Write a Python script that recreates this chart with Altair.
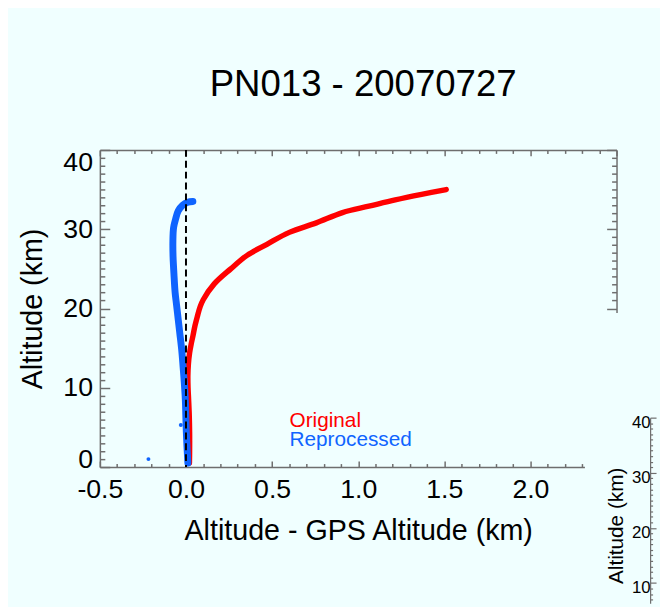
import altair as alt
import numpy as np
import pandas as pd

# ---------------- data ----------------
title_text = "PN013 - 20070727"
x_title = "Altitude - GPS Altitude (km)"
y_title = "Altitude (km)"
series_names = ["Original", "Reprocessed"]
series_colors = ["#FF0000", "#0F64FF"]

# Original (red): altitude (km) and altitude - GPS altitude (km)
orig_alt = [0.5, 2.0, 4.4, 6.5, 8.6, 10.0, 11.5, 13.0, 14.4, 15.5, 16.5, 17.8, 19.0,
            20.2, 21.1, 23.1, 25.0, 26.7, 28.1, 29.6, 30.8, 32.1, 32.9, 33.7, 34.4, 35.0]
orig_diff = [0.020, 0.021, 0.021, 0.019, 0.015, 0.012, 0.011, 0.014, 0.021, 0.030, 0.040,
             0.052, 0.066, 0.082, 0.100, 0.164, 0.260, 0.355, 0.470, 0.600, 0.757, 0.909,
             1.062, 1.215, 1.368, 1.511]

# Reprocessed (blue)
rep_alt = [0.5, 2.5, 4.4, 6.5, 8.6, 10.7, 12.7, 14.8, 16.9, 18.6, 20.5, 22.0, 24.4,
           26.5, 28.5, 30.2, 31.3, 32.3, 33.0, 33.4, 33.5]
rep_diff = [0.011, 0.006, 0.002, -0.001, -0.004, -0.010, -0.017, -0.025, -0.036, -0.045,
            -0.055, -0.063, -0.070, -0.075, -0.076, -0.072, -0.060, -0.045, -0.020, 0.010, 0.040]

# stray reprocessed points
stray_alt = [1.0, 5.3]
stray_diff = [-0.218, -0.030]

zero_line = [0.0]

x_domain = [-0.5, 2.5]
y_domain = [0, 40]
x_ticks = [round(v, 1) for v in np.arange(-0.5, 2.5001, 0.1)]
y_ticks = list(range(0, 41))
inset_domain = [6.3, 40]
inset_ticks = list(range(7, 41))
inset_points = [10, 20, 30, 40]

# ---------------- styling ----------------
BG = "#F0FFFF"
AX = "#6E6E6E"
FONT = "Liberation Sans"
X_MAJ = "abs(datum.value*2 - round(datum.value*2)) < 0.001"
Y_MAJ = "datum.value % 10 === 0"

xscale = alt.Scale(domain=x_domain, nice=False, zero=False)
yscale = alt.Scale(domain=y_domain, nice=False, zero=False)

common = dict(grid=False, domainColor=AX, domainWidth=1.5, tickColor=AX, tickWidth=1.5,
              labelOverlap=False)

x_bottom = alt.Axis(
    orient="bottom", values=x_ticks,
    tickSize={"condition": {"test": X_MAJ, "value": -6}, "value": -3.5},
    labelExpr=f"{X_MAJ} ? replace(format(datum.value, '.1f'), '\u2212', '-') : ''",
    labelFlush=False, labelFontSize=27, labelPadding=16,
    title=x_title, titleFontSize=29, titleY=73, titleBaseline="alphabetic",
    **common)
x_top = alt.Axis(
    orient="top", values=x_ticks,
    tickSize={"condition": {"test": X_MAJ, "value": -6}, "value": -3.5},
    labels=False, title=None, **common)
y_left = alt.Axis(
    orient="left", values=y_ticks,
    tickSize={"condition": {"test": Y_MAJ, "value": -10}, "value": -5},
    labelExpr=f"{Y_MAJ} ? datum.label : ''",
    labelFlush=False,
    labelBaseline={"condition": [{"test": "datum.value === 0", "value": "alphabetic"},
                                 {"test": "datum.value === 40", "value": "top"}],
                   "value": "middle"},
    labelFontSize=27, labelPadding=17.5,
    title=y_title, titleFontSize=29, titleX=-59, titleY=160.5, titleAngle=270,
    titleBaseline="alphabetic", **common)
y_right = alt.Axis(
    orient="right", values=y_ticks,
    tickSize={"condition": {"test": Y_MAJ, "value": -10}, "value": -5},
    labels=False, title=None, **common)

inset_axis = alt.Axis(
    orient="left", offset=-557, zindex=1, values=inset_ticks,
    tickSize={"condition": {"test": Y_MAJ, "value": -6}, "value": -2.5},
    labelExpr=f"{Y_MAJ} ? datum.label : ''",
    labelFlush=False, labelFontSize=17, labelPadding=6, labelOffset=5,
    title=y_title, titleFontSize=21, titleX=-28, titleY=380, titleAngle=270,
    titleBaseline="alphabetic", grid=False, domainColor=AX, domainWidth=1.2,
    tickColor=AX, tickWidth=1.2, labelOverlap=False)

df_orig = pd.DataFrame({"diff": orig_diff, "alt": orig_alt, "i": range(len(orig_alt))})
df_rep = pd.DataFrame({"diff": rep_diff, "alt": rep_alt, "i": range(len(rep_alt))})
df_stray = pd.DataFrame({"diff": stray_diff, "alt": stray_alt})
df_zero = pd.DataFrame({"z": zero_line})

red = alt.Chart(df_orig).mark_line(
    color=series_colors[0], strokeWidth=5.5, strokeCap="round", strokeJoin="round",
    interpolate="catmull-rom"
).encode(
    x=alt.X("diff:Q", scale=xscale, axis=x_bottom),
    y=alt.Y("alt:Q", scale=yscale, axis=y_left),
    order="i:Q",
)
blue = alt.Chart(df_rep).mark_line(
    color=series_colors[1], strokeWidth=7, strokeCap="round", strokeJoin="round",
    interpolate="catmull-rom"
).encode(
    x=alt.X("diff:Q", scale=xscale, axis=x_top),
    y=alt.Y("alt:Q", scale=yscale, axis=y_right),
    order="i:Q",
)
stray = alt.Chart(df_stray).mark_circle(size=16, color=series_colors[1], opacity=1).encode(
    x=alt.X("diff:Q", scale=xscale, axis=None),
    y=alt.Y("alt:Q", scale=yscale, axis=None),
)
rule = alt.Chart(df_zero).mark_rule(color="black", strokeWidth=2, strokeDash=[7, 4]).encode(
    x=alt.X("z:Q", scale=xscale, axis=None),
)
leg1 = alt.Chart(pd.DataFrame({"name": [series_names[0]]})).mark_text(
    align="left", baseline="alphabetic", fontSize=21, font=FONT, color=series_colors[0]
).encode(text="name:N", x=alt.value(192), y=alt.value(280))
leg2 = alt.Chart(pd.DataFrame({"name": [series_names[1]]})).mark_text(
    align="left", baseline="alphabetic", fontSize=21, font=FONT, color=series_colors[1]
).encode(text="name:N", x=alt.value(192), y=alt.value(300))

main = alt.layer(red, blue, stray, rule, leg1, leg2).resolve_axis(x="independent", y="independent")

cover = alt.Chart(pd.DataFrame({"k": [0]})).mark_rect(color=BG).encode(
    x=alt.value(491), x2=alt.value(620), y=alt.value(165), y2=alt.value(480)
)
inset = alt.Chart(pd.DataFrame({"v": inset_points})).mark_point(opacity=0).encode(
    x=alt.value(0),
    y=alt.Y("v:Q", scale=alt.Scale(domain=inset_domain, range=[459, 271], nice=False, zero=False),
            axis=inset_axis),
)

chart = alt.layer(main, cover, inset).resolve_scale(y="independent").resolve_axis(
    y="independent"
).properties(
    width=523, height=321,
    autosize=alt.AutoSizeParams(type="none"),
    padding={"left": 93, "top": 140, "right": 44, "bottom": 138},
    background=BG,
    title=alt.TitleParams(title_text, fontSize=37, font=FONT, fontWeight="normal",
                          anchor="middle", frame="group", offset=12, dx=5,
                          baseline="alphabetic", color="black"),
).configure_view(strokeWidth=0).configure_axis(
    labelFont=FONT, titleFont=FONT, labelColor="black", titleColor="black",
    titleFontWeight="normal"
)

chart.save("out.html", embed_options={"renderer": "svg", "actions": False})
